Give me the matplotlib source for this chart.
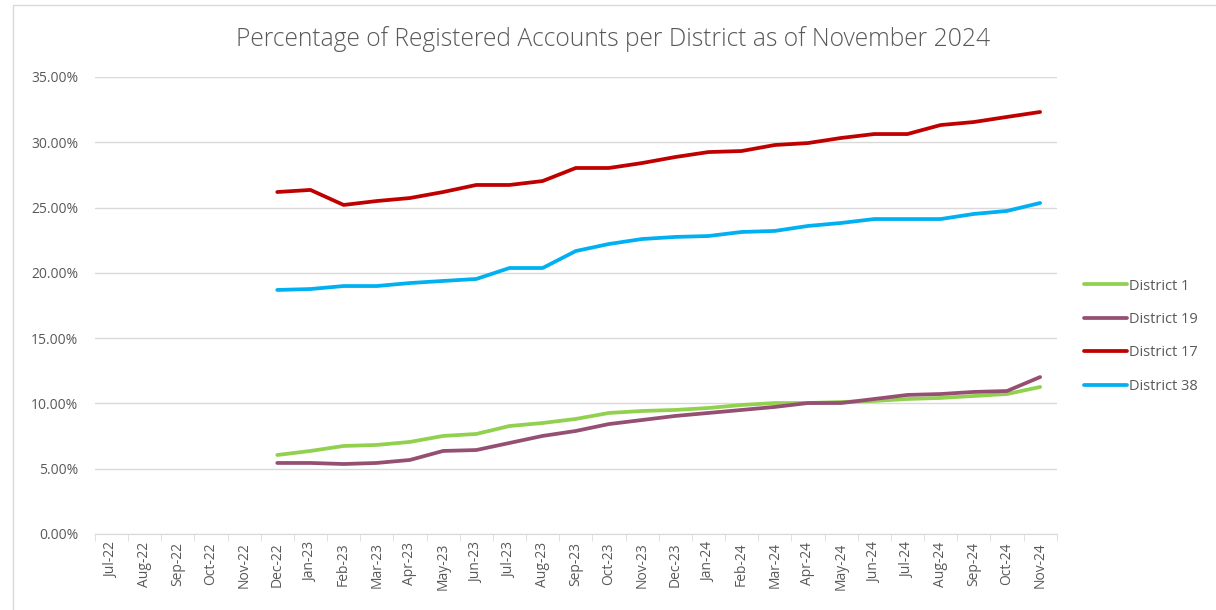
import matplotlib.pyplot as plt
from matplotlib.ticker import FuncFormatter
from matplotlib.patches import Rectangle

plt.rcParams['font.family'] = ['Open Sans', 'DejaVu Sans']

# Месяцы по оси X
months = ["Jul-22", "Aug-22", "Sep-22", "Oct-22", "Nov-22", "Dec-22",
          "Jan-23", "Feb-23", "Mar-23", "Apr-23", "May-23", "Jun-23",
          "Jul-23", "Aug-23", "Sep-23", "Oct-23", "Nov-23", "Dec-23",
          "Jan-24", "Feb-24", "Mar-24", "Apr-24", "May-24", "Jun-24",
          "Jul-24", "Aug-24", "Sep-24", "Oct-24", "Nov-24"]

# Данные начинаются с Dec-22
start_month = "Dec-22"

district_1 = [6.05, 6.36, 6.74, 6.82, 7.05, 7.51, 7.66, 8.27, 8.50, 8.81,
              9.27, 9.42, 9.50, 9.65, 9.88, 10.03, 10.03, 10.11, 10.19,
              10.34, 10.42, 10.57, 10.72, 11.26]
district_19 = [5.44, 5.44, 5.36, 5.44, 5.67, 6.36, 6.43, 6.97, 7.51, 7.89,
               8.42, 8.73, 9.04, 9.27, 9.50, 9.73, 10.03, 10.03, 10.34,
               10.65, 10.72, 10.88, 10.95, 12.02]
district_17 = [26.19, 26.35, 25.20, 25.50, 25.73, 26.19, 26.73, 26.73, 27.03,
               28.03, 28.03, 28.41, 28.87, 29.25, 29.33, 29.79, 29.94, 30.33,
               30.63, 30.63, 31.32, 31.55, 31.94, 32.32]
district_38 = [18.69, 18.76, 18.99, 18.99, 19.22, 19.38, 19.53, 20.37, 20.37,
               21.67, 22.21, 22.59, 22.75, 22.82, 23.13, 23.21, 23.59, 23.82,
               24.12, 24.12, 24.12, 24.51, 24.74, 25.35]

series = [
    ("District 1", district_1, "#92D050"),
    ("District 19", district_19, "#954F72"),
    ("District 17", district_17, "#C00000"),
    ("District 38", district_38, "#00B0F0"),
]

fig = plt.figure(figsize=(12.16, 6.1), dpi=100)
ax = fig.add_axes([0.078, 0.1246, 0.791, 0.7492])

x_all = list(range(len(months)))
i0 = months.index(start_month)
for name, vals, color in series:
    ax.plot(x_all[i0:i0 + len(vals)], vals, color=color, lw=2.7,
            label=name, solid_capstyle="round", solid_joinstyle="round")

ax.set_xlim(-0.5, len(months) - 0.5)
ax.set_ylim(0, 35)
ax.set_yticks([0, 5, 10, 15, 20, 25, 30, 35])
ax.yaxis.set_major_formatter(FuncFormatter(lambda v, p: f"{v:.2f}%"))
ax.grid(axis="y", color="#D9D9D9", lw=1)
ax.set_axisbelow(True)

ax.set_xticks(x_all)
ax.set_xticklabels(months, rotation=90)
ax.set_xticks([i - 0.5 for i in range(len(months) + 1)], minor=True)
ax.tick_params(axis="x", which="major", length=0, pad=6)
ax.tick_params(axis="x", which="minor", length=5, color="#D9D9D9")
ax.tick_params(axis="y", length=0, pad=12)
ax.tick_params(labelsize=10, labelcolor="#595959")

for s in ["top", "right", "left"]:
    ax.spines[s].set_visible(False)
ax.spines["bottom"].set_color("#D9D9D9")

fig.suptitle("Percentage of Registered Accounts per District as of November 2024",
             x=0.504, y=0.958, fontsize=17.7, color="#595959", fontweight="light")

leg = ax.legend(loc="center left", bbox_to_anchor=(1.015, 0.433), frameon=False,
                fontsize=10.5, labelspacing=1.26, handlelength=2.9,
                handletextpad=0.15)
for t in leg.get_texts():
    t.set_color("#595959")

fig.patches.append(Rectangle((13 / 1216, -0.2), 1.2, 1.2 - 5 / 610,
                             transform=fig.transFigure, fill=False,
                             edgecolor="#D9D9D9", lw=1))

fig.savefig("out.png", dpi=100)
